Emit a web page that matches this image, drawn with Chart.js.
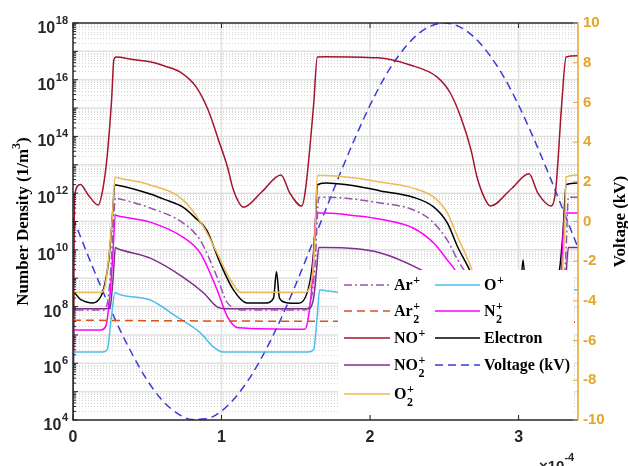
<!DOCTYPE html>
<html>
<head>
<meta charset="utf-8">
<script src="https://cdn.jsdelivr.net/npm/chart.js@4.4.1/dist/chart.umd.min.js"></script>
<style>
  html, body { margin: 0; padding: 0; background: #fff; }
  #wrap { width: 628px; height: 466px; }
</style>
</head>
<body>
<div id="wrap"><canvas id="chart" width="628" height="466"></canvas></div>
<script>
// time axis is in units of 1e-4 s, densities in 1/m^3, voltage in kV

// --- DATA ---
const tArp  = [0, 0.005, 0.2, 0.23, 0.25, 0.27, 0.285, 0.3, 0.52, 0.74, 0.856, 0.97, 1.04, 1.15, 1.56, 1.6, 1.63, 1.655, 1.7, 2.07, 2.29, 2.41, 2.52, 2.59, 2.63, 2.72, 2.8, 3.26, 3.3, 3.32, 3.335, 3.4];
const nArp  = [1e4, 7.6e7, 7.6e7, 1.2e8, 1e9, 5e10, 6.7e11, 6.5e11, 3e11, 8.9e10, 2.2e10, 1.1e9, 1.35e8, 7.6e7, 7.6e7, 1.5e8, 3e9, 7.2e11, 7.2e11, 4.5e11, 2.6e11, 1.1e11, 2.2e10, 4.4e9, 2e9, 2e8, 7.6e7, 7.6e7, 3e8, 1e10, 7.2e11, 7.2e11];

const tAr2p = [0, 1.0, 2.0, 3.4];
const nAr2p = [3.3e7, 3.1e7, 3e7, 2.8e7];

const tNOp  = [0, 0.01, 0.05, 0.1, 0.17, 0.2, 0.23, 0.26, 0.275, 0.29, 0.4, 0.52, 0.62, 0.72, 0.83, 0.91, 0.98, 1.04, 1.08, 1.15, 1.27, 1.4, 1.46, 1.54, 1.565, 1.62, 1.645, 1.7, 2.05, 2.27, 2.45, 2.54, 2.61, 2.68, 2.72, 2.77, 2.81, 2.95, 3.07, 3.13, 3.22, 3.25, 3.29, 3.32, 3.4];
const nNOp  = [1e4, 8e11, 2e12, 9e11, 3.8e11, 1.3e12, 2e13, 2e15, 5e16, 6.3e16, 5.2e16, 4.3e16, 3e16, 1.9e16, 5.5e15, 8.5e14, 7.4e13, 8.3e12, 1.3e12, 3.2e11, 1.1e12, 4.4e12, 1e12, 3.5e11, 1.3e12, 1.3e15, 6.3e16, 6.5e16, 5.9e16, 3.3e16, 1.26e16, 3.4e15, 4.9e14, 3.3e13, 3.7e12, 6.8e11, 3.5e11, 1.4e12, 4.8e12, 1e12, 3.5e11, 1.3e12, 1.3e15, 6.3e16, 7e16];

const tNO2p = [0, 0.005, 0.22, 0.25, 0.27, 0.285, 0.3, 0.52, 0.74, 0.88, 0.97, 1.04, 1.58, 1.62, 1.64, 1.655, 1.7, 2.07, 2.34, 2.5, 2.62, 2.72, 3.28, 3.31, 3.335, 3.4];
const nNO2p = [1e4, 8.3e7, 8.3e7, 1e8, 1e9, 1.2e10, 1.1e10, 5.1e9, 1.1e9, 3e8, 9.8e7, 8.3e7, 8.3e7, 2e8, 2e9, 1.2e10, 1.2e10, 7.8e9, 2e9, 6e8, 1.5e8, 8.3e7, 8.3e7, 2e8, 1.2e10, 1.2e10];

const tO2p  = [0, 0.005, 0.19, 0.215, 0.24, 0.265, 0.283, 0.3, 0.52, 0.74, 0.88, 0.97, 1.06, 1.13, 1.56, 1.6, 1.625, 1.645, 1.7, 1.9, 2.07, 2.29, 2.43, 2.52, 2.59, 2.66, 2.73, 2.8, 3.25, 3.29, 3.31, 3.32, 3.4];
const nO2p  = [1e4, 3.2e8, 3.2e8, 5e8, 5e9, 1.5e11, 3.7e12, 3.5e12, 1.95e12, 5.8e11, 6.3e10, 7.8e9, 8.7e8, 3.2e8, 3.2e8, 6e8, 1e10, 4.2e12, 4.2e12, 3.4e12, 2.45e12, 1.5e12, 7.2e11, 2e11, 2.8e10, 4.4e9, 6e8, 3.2e8, 3.2e8, 1e9, 5e10, 3.7e12, 4.4e12];

const tOp   = [0, 0.005, 0.2, 0.23, 0.26, 0.283, 0.3, 0.52, 0.7, 0.856, 0.945, 1.01, 1.58, 1.62, 1.645, 1.66, 1.7, 2.1, 2.35, 2.55, 2.72, 2.82, 3.3, 3.33, 3.35, 3.4];
const nOp   = [1e4, 2.5e6, 2.5e6, 3e6, 5e7, 3.2e8, 2.8e8, 1.7e8, 4.3e7, 1.2e7, 3.8e6, 2.5e6, 2.5e6, 3e6, 5e7, 3.9e8, 3.6e8, 2.2e8, 1e8, 2.5e7, 4e6, 2.5e6, 2.5e6, 5e7, 3.9e8, 3.9e8];

const tN2p  = [0, 0.005, 0.19, 0.22, 0.25, 0.27, 0.285, 0.3, 0.52, 0.74, 0.856, 0.97, 1.04, 1.11, 1.56, 1.58, 1.61, 1.635, 1.645, 1.7, 1.9, 2.07, 2.29, 2.43, 2.52, 2.57, 2.65, 2.72, 2.8, 3.22, 3.26, 3.29, 3.31, 3.4];
const nN2p  = [1e4, 1.5e7, 1.5e7, 2e7, 3e8, 1e10, 1.7e11, 1.6e11, 9.5e10, 2.8e10, 7.8e9, 3.9e8, 4.3e7, 1.8e7, 1.6e7, 3e7, 7e8, 1.5e11, 2e11, 2e11, 1.6e11, 1.2e11, 5.9e10, 1.7e10, 4.4e9, 2e9, 2e8, 2.5e7, 1.6e7, 1.6e7, 6e7, 3e9, 2e11, 2e11];

const tElec = [0, 0.005, 0.05, 0.135, 0.19, 0.216, 0.24, 0.26, 0.283, 0.3, 0.52, 0.62, 0.74, 0.82, 0.9, 0.99, 1.08, 1.17, 1.3, 1.35, 1.37, 1.39, 1.43, 1.52, 1.58, 1.61, 1.63, 1.645, 1.7, 1.9, 2.07, 2.29, 2.43, 2.52, 2.59, 2.66, 2.74, 2.82, 2.97, 3.01, 3.03, 3.05, 3.1, 3.2, 3.25, 3.28, 3.3, 3.32, 3.4];
const nElec = [1e4, 3e8, 1.8e8, 1.35e8, 2.4e8, 6.8e8, 4e9, 6.3e10, 1.95e12, 1.9e12, 9.3e11, 5.9e11, 3.2e11, 1.4e11, 5e10, 3.5e9, 3.9e8, 1.35e8, 1.35e8, 2e8, 1.7e9, 2e8, 1.4e8, 1.3e8, 3.5e8, 2.5e9, 5e10, 1.95e12, 2.3e12, 1.8e12, 1.2e12, 7.2e11, 3.2e11, 8.9e10, 1.26e10, 2.5e9, 3e8, 1.4e8, 1.35e8, 2.5e8, 4.4e9, 2.5e8, 1.4e8, 1.35e8, 4e8, 3e9, 5e10, 2e12, 2.3e12];

const tVolt = [0, 0.1, 0.2, 0.3, 0.4, 0.5, 0.6, 0.7, 0.8, 0.9, 1.0, 1.1, 1.2, 1.3, 1.4, 1.5, 1.6, 1.7, 1.8, 1.9, 2.0, 2.1, 2.2, 2.3, 2.4, 2.5, 2.6, 2.7, 2.8, 2.9, 3.0, 3.1, 3.2, 3.3, 3.4];
const vVolt = [0.2, -1.7, -3.5, -5.2, -6.7, -8.0, -9.0, -9.65, -9.97, -9.94, -9.55, -8.8, -7.76, -6.44, -4.9, -3.17, -1.32, 0.57, 2.44, 4.22, 5.86, 7.29, 8.43, 9.29, 9.82, 10.0, 9.82, 9.29, 8.43, 7.29, 5.86, 4.22, 2.44, 0.57, -1.32];

// tick labels
const xTicks = [0, 1, 2, 3];
const leftTickExp = [4, 6, 8, 10, 12, 14, 16, 18];
const rightTicks = [-10, -8, -6, -4, -2, 0, 2, 4, 6, 8, 10];

// --- STYLE ---
const SANS = '"Liberation Sans", Arial, sans-serif';
const SERIF = '"Liberation Serif", "Times New Roman", serif';
const AXIS = '#262626';
const GOLD = '#E3A62A';

function pts(ts, vs) {
    return ts.map((t, i) => ({ x: t, y: vs[i] }));
}

function series(label, ts, vs, color, dash, axis) {
    return {
        label: label,
        data: pts(ts, vs),
        borderColor: color,
        borderWidth: 1.5,
        borderDash: dash || [],
        pointRadius: 0,
        cubicInterpolationMode: 'monotone',
        yAxisID: axis || 'y'
    };
}

// draw "Ar", "Ar2+", "NO2+"... with super/subscripts
function drawSpecies(ctx, label, x, yMid) {
    const m = label.match(/^([A-Za-z]+?)(\d?)(\+)$/);
    const base = yMid + 5;
    ctx.fillStyle = '#000';
    ctx.textAlign = 'left';
    ctx.textBaseline = 'alphabetic';
    ctx.font = 'bold 16px ' + SERIF;
    if (!m) {
        ctx.fillText(label, x, base);
        return;
    }
    ctx.fillText(m[1], x, base);
    const x2 = x + ctx.measureText(m[1]).width + 0.5;
    ctx.font = 'bold 12px ' + SERIF;
    ctx.fillText(m[3], x2, base - 6.5);
    if (m[2]) ctx.fillText(m[2], x2, base + 7);
}

const matlabLook = {
    id: 'matlabLook',
    beforeDatasetsDraw(chart) {
        const { ctx, chartArea: a, scales } = chart;
        const ys = scales.y, xs = scales.x;
        ctx.save();
        ctx.beginPath();
        ctx.rect(a.left, a.top, a.right - a.left, a.bottom - a.top);
        ctx.clip();
        // minor dotted grid
        ctx.strokeStyle = 'rgba(0,0,0,0.16)';
        ctx.lineWidth = 1;
        ctx.setLineDash([1, 2]);
        for (let e = 4; e < 18; e++) {
            for (let k = 2; k <= 9; k++) {
                const y = Math.round(ys.getPixelForValue(k * Math.pow(10, e))) + 0.5;
                ctx.beginPath(); ctx.moveTo(a.left, y); ctx.lineTo(a.right, y); ctx.stroke();
            }
        }
        // major grid
        ctx.setLineDash([]);
        ctx.strokeStyle = '#e0e0e0';
        ctx.lineWidth = 1.5;
        for (let e = 5; e < 18; e++) {
            const y = ys.getPixelForValue(Math.pow(10, e));
            ctx.beginPath(); ctx.moveTo(a.left, y); ctx.lineTo(a.right, y); ctx.stroke();
        }
        xTicks.forEach(v => {
            if (v === 0) return;
            const x = xs.getPixelForValue(v);
            ctx.beginPath(); ctx.moveTo(x, a.top); ctx.lineTo(x, a.bottom); ctx.stroke();
        });
        ctx.restore();
    },
    afterDatasetsDraw(chart) {
        const { ctx, chartArea: a, scales } = chart;
        const ys = scales.y, xs = scales.x, yr = scales.y2;
        ctx.save();

        // legend box
        const ds = chart.data.datasets;
        ctx.fillStyle = '#fff';
        ctx.fillRect(338, 270, 236, 145);
        const rows = [285, 311, 338, 365, 394];
        ds.forEach((d, i) => {
            const col = i < 5 ? 0 : 1;
            const y = rows[col ? i - 5 : i];
            const x1 = col ? 435 : 344, x2 = col ? 480 : 390, tx = col ? 484 : 394;
            ctx.strokeStyle = d.borderColor;
            ctx.lineWidth = 1.5;
            ctx.setLineDash(d.borderDash);
            ctx.beginPath(); ctx.moveTo(x1, y); ctx.lineTo(x2, y); ctx.stroke();
            ctx.setLineDash([]);
            drawSpecies(ctx, d.label, tx, y);
        });

        // frame
        ctx.lineWidth = 1.5;
        ctx.strokeStyle = AXIS;
        ctx.beginPath();
        ctx.moveTo(a.right, a.top); ctx.lineTo(a.left, a.top);
        ctx.lineTo(a.left, a.bottom); ctx.lineTo(a.right, a.bottom);
        ctx.stroke();
        ctx.strokeStyle = GOLD;
        ctx.beginPath(); ctx.moveTo(a.right, a.top); ctx.lineTo(a.right, a.bottom); ctx.stroke();

        // ticks (inward)
        ctx.lineWidth = 1;
        ctx.strokeStyle = AXIS;
        for (let e = 4; e <= 18; e++) {
            const y = ys.getPixelForValue(Math.pow(10, e));
            ctx.beginPath(); ctx.moveTo(a.left, y); ctx.lineTo(a.left + 5, y); ctx.stroke();
            if (e < 18) {
                for (let k = 2; k <= 9; k++) {
                    const ym = ys.getPixelForValue(k * Math.pow(10, e));
                    ctx.beginPath(); ctx.moveTo(a.left, ym); ctx.lineTo(a.left + 3, ym); ctx.stroke();
                }
            }
        }
        xTicks.forEach(v => {
            const x = xs.getPixelForValue(v);
            ctx.beginPath(); ctx.moveTo(x, a.bottom); ctx.lineTo(x, a.bottom - 5); ctx.stroke();
            ctx.beginPath(); ctx.moveTo(x, a.top); ctx.lineTo(x, a.top + 5); ctx.stroke();
        });
        ctx.strokeStyle = GOLD;
        rightTicks.forEach(v => {
            const y = yr.getPixelForValue(v);
            ctx.beginPath(); ctx.moveTo(a.right, y); ctx.lineTo(a.right - 5, y); ctx.stroke();
        });

        // left tick labels 10^n
        ctx.fillStyle = AXIS;
        ctx.textAlign = 'left';
        ctx.textBaseline = 'alphabetic';
        leftTickExp.forEach(e => {
            const y = ys.getPixelForValue(Math.pow(10, e));
            ctx.font = 'bold 11px ' + SANS;
            const ew = ctx.measureText(String(e)).width;
            ctx.font = 'bold 16px ' + SANS;
            const bw = ctx.measureText('10').width;
            const ex = 68 - ew;
            ctx.fillText('10', ex - bw - 0.5, y + 10);
            ctx.font = 'bold 11px ' + SANS;
            ctx.fillText(String(e), ex, y + 1);
        });

        // x multiplier
        ctx.font = 'bold 15px ' + SANS;
        ctx.fillText('\u00d710', 539, 471);
        const mw = ctx.measureText('\u00d710').width;
        ctx.font = 'bold 11px ' + SANS;
        ctx.fillText('-4', 539 + mw, 461);

        // left title
        ctx.save();
        ctx.translate(28, (a.top + a.bottom) / 2);
        ctx.rotate(-Math.PI / 2);
        ctx.fillStyle = '#000';
        ctx.font = 'bold 17px ' + SERIF;
        const p1 = 'Number Density (1/m', p2 = ')';
        const w1 = ctx.measureText(p1).width, w2 = ctx.measureText(p2).width;
        ctx.font = 'bold 12px ' + SERIF;
        const w3 = ctx.measureText('3').width;
        let x0 = -(w1 + w2 + w3) / 2;
        ctx.font = 'bold 17px ' + SERIF;
        ctx.fillText(p1, x0, 0);
        ctx.font = 'bold 12px ' + SERIF;
        ctx.fillText('3', x0 + w1, -8);
        ctx.font = 'bold 17px ' + SERIF;
        ctx.fillText(p2, x0 + w1 + w3, 0);
        ctx.restore();

        // right title
        ctx.save();
        ctx.translate(625, (a.top + a.bottom) / 2);
        ctx.rotate(-Math.PI / 2);
        ctx.fillStyle = '#000';
        ctx.textAlign = 'center';
        ctx.font = 'bold 17px ' + SERIF;
        ctx.fillText('Voltage (kV)', 0, 0);
        ctx.restore();

        ctx.restore();
    }
};

const chart = new Chart(document.getElementById('chart').getContext('2d'), {
    type: 'line',
    data: {
        datasets: [
            series('Ar+', tArp, nArp, '#9457A8', [8, 3, 2, 3]),
            series('Ar2+', tAr2p, nAr2p, '#D95319', [8, 5]),
            series('NO+', tNOp, nNOp, '#A2142F'),
            series('NO2+', tNO2p, nNO2p, '#7E2F8E'),
            series('O2+', tO2p, nO2p, '#EBBB55'),
            series('O+', tOp, nOp, '#4DBEEE'),
            series('N2+', tN2p, nN2p, '#FF00FF'),
            series('Electron', tElec, nElec, '#000000'),
            series('Voltage (kV)', tVolt, vVolt, '#3B3BDB', [8, 5], 'y2')
        ]
    },
    options: {
        responsive: false,
        animation: false,
        devicePixelRatio: 1,
        layout: { padding: { top: 23, left: 0, right: 0, bottom: 0 } },
        plugins: { legend: { display: false }, tooltip: { enabled: false } },
        scales: {
            x: {
                type: 'linear', min: 0, max: 3.4,
                grid: { display: false, drawTicks: false },
                border: { display: false },
                afterBuildTicks: s => { s.ticks = xTicks.map(v => ({ value: v })); },
                afterFit: s => { s.height = 46; },
                ticks: { color: AXIS, padding: 8, maxRotation: 0, font: { family: SANS, size: 16, weight: 'bold' } }
            },
            y: {
                type: 'logarithmic', position: 'left', min: 1e4, max: 1e18,
                grid: { display: false, drawTicks: false },
                border: { display: false },
                ticks: { display: false },
                afterFit: s => { s.width = 73; }
            },
            y2: {
                type: 'linear', position: 'right', min: -10, max: 10,
                grid: { display: false, drawTicks: false },
                border: { display: false },
                afterBuildTicks: s => { s.ticks = rightTicks.map(v => ({ value: v })); },
                afterFit: s => { s.width = 50; },
                ticks: { color: GOLD, padding: 5, font: { family: SANS, size: 15, weight: 'bold' } }
            }
        }
    },
    plugins: [matlabLook]
});
</script>
</body>
</html>
